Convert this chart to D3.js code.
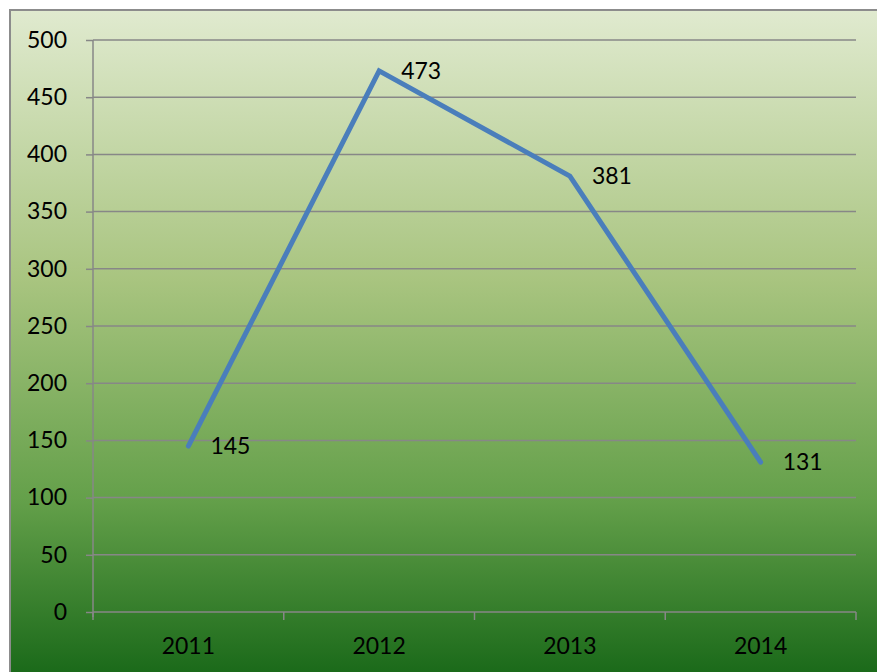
<!DOCTYPE html>
<html>
<head>
<meta charset="utf-8">
<script src="https://cdn.jsdelivr.net/npm/d3@7"></script>
<style>
  html, body { margin: 0; padding: 0; background: #fff; }
  svg { display: block; }
  text { font-family: Lato, "Open Sans", sans-serif; fill: #000; }
</style>
</head>
<body>
<svg id="chart" width="877" height="672"></svg>
<script>
// Yearly values
const years = ["2011", "2012", "2013", "2014"];
const values = [145, 473, 381, 131];
const yTicks = [0, 50, 100, 150, 200, 250, 300, 350, 400, 450, 500];

const W = 877, H = 672;
const FONT = 23;
const svg = d3.select("#chart");

// Chart frame with vertical green gradient
const defs = svg.append("defs");
const grad = defs.append("linearGradient")
  .attr("id", "bg").attr("gradientUnits", "userSpaceOnUse")
  .attr("x1", 0).attr("y1", 10).attr("x2", 0).attr("y2", H);
[["0%", "#e0eacf"], ["41%", "#a8c47f"], ["74%", "#64a04a"], ["100%", "#1b6a1a"]]
  .forEach(([o, c]) => grad.append("stop").attr("offset", o).attr("stop-color", c));

svg.append("rect")
  .attr("x", 10).attr("y", 10).attr("width", W).attr("height", H)
  .attr("fill", "url(#bg)")
  .attr("stroke", "#8c8c8c").attr("stroke-width", 2);

const m = { left: 93, right: 856, top: 40, bottom: 612 };

const x = d3.scaleBand().domain(years).range([m.left, m.right]);
const y = d3.scaleLinear().domain([0, 500]).range([m.bottom, m.top]);

// Horizontal gridlines
svg.append("g").selectAll("line").data(yTicks.filter(d => d > 0)).join("line")
  .attr("x1", m.left).attr("x2", m.right)
  .attr("y1", d => y(d)).attr("y2", d => y(d))
  .attr("stroke", "#878787").attr("stroke-width", 1.5);

// Y axis
const yAxis = svg.append("g")
  .attr("transform", `translate(${m.left},0)`)
  .call(d3.axisLeft(y).tickValues(yTicks).tickSize(7).tickPadding(19).tickFormat(d3.format("d")));
yAxis.select(".domain").attr("stroke", "#878787").attr("stroke-width", 1.5)
  .attr("d", `M0,${m.top}V${m.bottom + 5}`);
yAxis.selectAll(".tick line").attr("stroke", "#878787").attr("stroke-width", 1.5);
yAxis.selectAll("text").attr("font-size", FONT).attr("font-family", "Lato").attr("fill", "#000");

// X axis with tick marks on category boundaries
const xAxis = svg.append("g")
  .attr("transform", `translate(0,${m.bottom})`)
  .call(d3.axisBottom(x).tickSize(0).tickPadding(26));
xAxis.select(".domain").attr("stroke", "#878787").attr("stroke-width", 1.5)
  .attr("d", `M${m.left},0H${m.right}`);
xAxis.selectAll("text").attr("font-size", FONT).attr("font-family", "Lato").attr("fill", "#000");
const bounds = years.map(d => x(d)).concat([m.right]);
xAxis.append("g").selectAll("line").data(bounds).join("line")
  .attr("x1", d => d).attr("x2", d => d).attr("y1", 0).attr("y2", 8)
  .attr("stroke", "#878787").attr("stroke-width", 1.5);

// Series line
const cx = d => x(d) + x.bandwidth() / 2;
const line = d3.line().x((d, i) => cx(years[i])).y(d => y(d));
svg.append("path").datum(values)
  .attr("d", line)
  .attr("fill", "none")
  .attr("stroke", "#4a7ebb")
  .attr("stroke-width", 5)
  .attr("stroke-linejoin", "miter")
  .attr("stroke-linecap", "round");

// Value labels
svg.append("g").selectAll("text").data(values).join("text")
  .attr("x", (d, i) => cx(years[i]) + 22)
  .attr("y", d => y(d))
  .attr("dy", "0.36em")
  .attr("font-size", FONT)
  .text(d => d);
</script>
</body>
</html>
